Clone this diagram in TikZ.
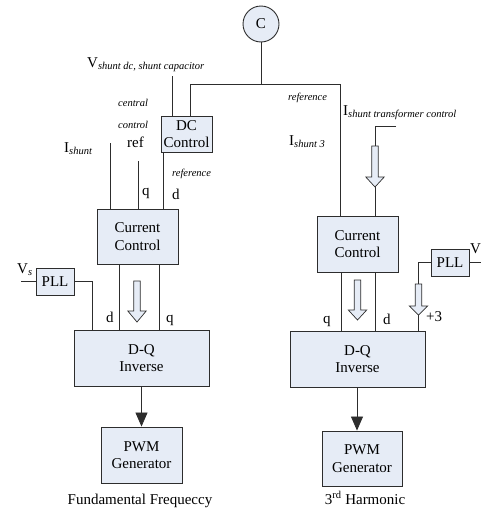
\documentclass[tikz,border=0pt]{standalone}
\usepackage{fontspec}
\setmainfont{Liberation Serif}
\usetikzlibrary{arrows.meta}
\definecolor{boxfill}{RGB}{230,236,246}
\definecolor{ln}{RGB}{45,45,45}
\newcommand\sbs[1]{\raisebox{-2pt}{\fontsize{10.5}{12}\selectfont\itshape #1}}
\newcommand\harrow[4]{\draw[hol] ({#1-3.3},#2) -- ({#1+3.3},#2) -- ({#1+3.3},#3) -- ({#1+9.2},#3) -- (#1,#4) -- ({#1-9.2},#3) -- ({#1-3.3},#3) -- cycle;}
\tikzset{
 blk/.style={draw=ln, line width=0.9pt, fill=boxfill, inner sep=0pt, align=center, font=\fontsize{15}{17.5}\selectfont},
 wire/.style={draw=ln, line width=0.8pt},
 hol/.style={draw=ln, line width=0.7pt, fill=boxfill},
 lbl/.style={inner sep=0pt, anchor=base west, font=\fontsize{15}{17}\selectfont},
 ilbl/.style={inner sep=0pt, anchor=base west, font=\fontsize{10.5}{12}\selectfont\itshape},
 big/.style={-{Triangle[width=12pt,length=14pt]}}
}
\begin{document}
\begin{tikzpicture}[x=1pt,y=-1pt]
\useasboundingbox (0,0) rectangle (481,509);
% blocks
\node[blk, circle, minimum size=36pt] (C) at (261,24) {C};
\node[blk, minimum width=51pt, minimum height=36pt] (dc) at (186.5,134) {DC\\Control};
\node[blk, minimum width=81pt, minimum height=55pt] (ccL) at (137.5,236.5) {Current\\Control};
\node[blk, minimum width=135pt, minimum height=56pt] (dqL) at (141.5,358) {D-Q\\Inverse};
\node[blk, minimum width=81pt, minimum height=56pt] (pwmL) at (141.5,455) {PWM\\Generator};
\node[blk, minimum width=38pt, minimum height=27pt] (pllL) at (55,281.5) {PLL};
\node[blk, minimum width=81pt, minimum height=56pt] (ccR) at (357.5,244) {Current\\Control};
\node[blk, minimum width=135pt, minimum height=56pt] (dqR) at (357.5,359) {D-Q\\Inverse};
\node[blk, minimum width=80pt, minimum height=55pt] (pwmR) at (362,458.5) {PWM\\Generator};
\node[blk, minimum width=38pt, minimum height=27pt] (pllR) at (450,262.5) {PLL};
% coordinates
\coordinate (jl) at (190,84);
\coordinate (jr) at (340,84);
\coordinate (vsh) at (172,76);
\coordinate (ish) at (110,143);
\coordinate (refq) at (138,161);
\coordinate (dxL) at (163,152);
\coordinate (c1) at (119,264);
\coordinate (c2) at (159,264);
\coordinate (plx) at (92,281.5);
\coordinate (vsin) at (21,281.5);
\coordinate (itr) at (396,126);
\coordinate (itc) at (375,126);
\coordinate (r1) at (341,272);
\coordinate (r2) at (375,272);
\coordinate (prx) at (418.5,262.5);
\coordinate (vrin) at (481,262.5);
\coordinate (ar) at (357,0);
% wires
\draw[wire] (C) -- (C.south |- jl);
\draw[wire] (dc.north -| jl) -- (jl) -- (jr) -- (ccR.north -| jr);
\draw[wire] (vsh) -- (dc.north -| vsh);
\draw[wire] (ish) -- (ccL.north -| ish);
\draw[wire] (refq) -- (ccL.north -| refq);
\draw[wire] (dc.south -| dxL) -- (ccL.north -| dxL);
\draw[wire] (ccL.south -| c1) -- (dqL.north -| c1);
\draw[wire] (ccL.south -| c2) -- (dqL.north -| c2);
\draw[wire] (vsin) -- (pllL.west);
\draw[wire] (pllL.east) -- (plx) -- (dqL.north -| plx);
\draw[wire, big] (dqL) -- (pwmL);
\draw[wire] (itr) -- (itc) -- (ccR.north -| itc);
\draw[wire] (ccR.south -| r1) -- (dqR.north -| r1);
\draw[wire] (ccR.south -| r2) -- (dqR.north -| r2);
\draw[wire] (vrin) -- (pllR.east);
\draw[wire] (pllR.west) -- (prx) -- (dqR.north -| prx);
\draw[wire, big] (dqR.south -| ar) -- (pwmR.north -| ar);
% hollow arrows
\harrow{137}{281}{311}{322}
\harrow{357.5}{280}{310}{320}
\harrow{418.5}{284}{306}{315}
\harrow{375}{146}{177}{187}
% labels
\node[lbl] (lv) at (87,67) {V\sbs{shunt dc, shunt capacitor}};
\node[ilbl] (lcen) at (118,106) {central};
\node[ilbl] (lcon) at (118,128) {control};
\node[lbl] (lref) at (127,147) {ref};
\node[lbl] (lish) at (64,152) {I\sbs{shunt}};
\node[lbl] (lq1) at (142,195) {q};
\node[lbl] (ld1) at (172,199) {d};
\node[ilbl] (lrefer) at (172,176) {reference};
\node[ilbl] (lrefR) at (288,100) {reference};
\node[lbl] (litr) at (343,115) {I\sbs{shunt transformer control}};
\node[lbl] (lish3) at (289,145) {I\sbs{shunt 3}};
\node[lbl] (lvs) at (17,273) {V\sbs{s}};
\node[lbl] (ld2) at (106,322) {d};
\node[lbl] (lq2) at (166,322) {q};
\node[lbl] (lq3) at (323,323) {q};
\node[lbl] (ld3) at (383,324) {d};
\node[lbl] (lp3) at (426,321) {+3};
\node[lbl] (lvr) at (470,253) {V};
\node[lbl, anchor=base] (lff) at (140,504) {Fundamental Frequeccy};
\node[lbl, anchor=base] (lh3) at (365,504) {3\textsuperscript{rd} Harmonic};
\end{tikzpicture}
\end{document}
